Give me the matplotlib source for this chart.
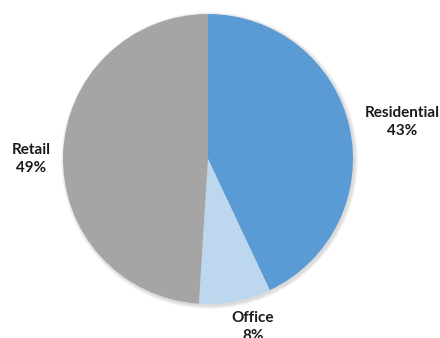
import matplotlib.pyplot as plt
from matplotlib.patches import Circle

# Floor area share by use
categories = ["Residential", "Office", "Retail"]
shares = [43, 8, 49]
colors = ["#5B9BD5", "#BDD7EE", "#A5A5A5"]

# label anchor points (pixels, origin bottom-left)
label_xy = [(402, 216), (253, 11), (31, 179)]

fig = plt.figure(figsize=(4.4, 3.38), dpi=100)
ax = fig.add_axes([0, 0, 1, 1])

cx, cy, r = 208, 179, 145

# soft shadow under the pie
for i in range(6):
    ax.add_patch(Circle((cx + 1.5, cy - 1.5), r + 0.6 * (6 - i),
                        color="black", alpha=0.025, lw=0, zorder=0))

ax.pie(shares, colors=colors, startangle=90, counterclock=False,
       center=(cx, cy), radius=r, frame=True,
       wedgeprops=dict(linewidth=0, zorder=1))
ax.set_xlim(0, 440)
ax.set_ylim(0, 338)
ax.set_aspect("equal")
ax.axis("off")

for name, val, (x, y) in zip(categories, shares, label_xy):
    ax.text(x, y, f"{name}\n{val}%", ha="center", va="center",
            fontsize=11, fontweight="bold", family="Lato",
            color="#1a1a1a", linespacing=1.3)

fig.savefig("out.png", dpi=100)
